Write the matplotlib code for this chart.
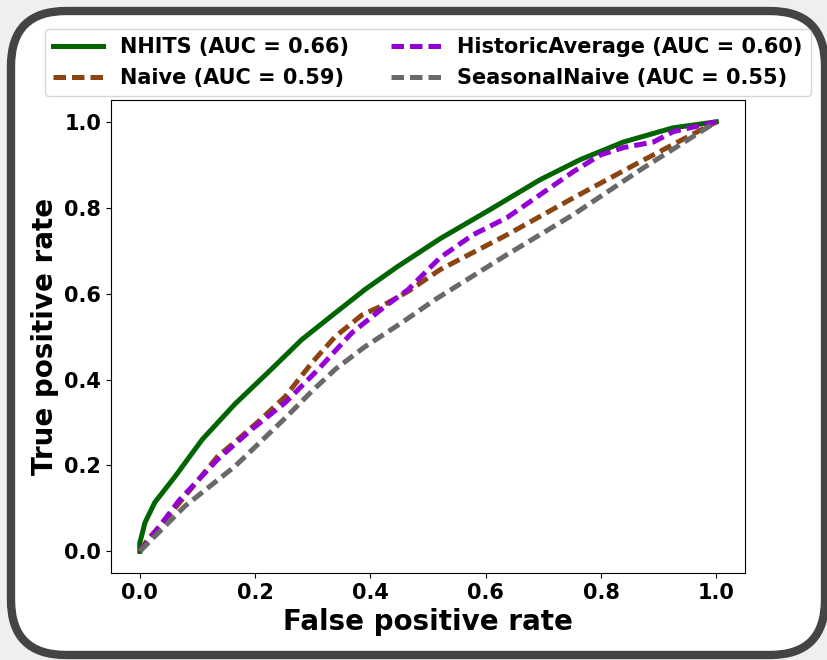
import matplotlib
matplotlib.use("Agg")
import matplotlib.pyplot as plt
from matplotlib.patches import FancyBboxPatch
from matplotlib.transforms import IdentityTransform

# ROC curves (FPR, TPR)
nhits_fpr = [0.0, 0.0, 0.004, 0.009, 0.026, 0.061, 0.108, 0.165, 0.222, 0.281,
             0.339, 0.391, 0.446, 0.521, 0.608, 0.694, 0.764, 0.839, 0.925, 1.0]
nhits_tpr = [0.0, 0.02, 0.04, 0.067, 0.114, 0.174, 0.26, 0.343, 0.416, 0.493,
             0.555, 0.610, 0.662, 0.728, 0.796, 0.865, 0.912, 0.953, 0.986, 1.0]

naive_fpr = [0.0, 0.014, 0.04, 0.078, 0.135, 0.168, 0.208, 0.252, 0.299, 0.339,
             0.385, 0.425, 0.465, 0.521, 0.637, 0.752, 0.868, 1.0]
naive_tpr = [0.0, 0.028, 0.067, 0.128, 0.221, 0.258, 0.305, 0.36, 0.44, 0.5,
             0.55, 0.575, 0.605, 0.656, 0.737, 0.823, 0.907, 1.0]

hist_fpr = [0.0, 0.021, 0.069, 0.135, 0.194, 0.252, 0.309, 0.368, 0.425, 0.465,
            0.521, 0.578, 0.637, 0.694, 0.752, 0.799, 0.839, 0.891, 0.925, 1.0]
hist_tpr = [0.0, 0.035, 0.12, 0.214, 0.284, 0.346, 0.423, 0.509, 0.570, 0.609,
            0.684, 0.737, 0.777, 0.830, 0.884, 0.923, 0.940, 0.953, 0.977, 1.0]

snaive_fpr = [0.0, 0.078, 0.165, 0.252, 0.30, 0.34, 0.39, 0.455, 0.512, 0.637,
              0.752, 0.868, 1.0]
snaive_tpr = [0.0, 0.105, 0.198, 0.31, 0.375, 0.425, 0.476, 0.533, 0.586, 0.691,
              0.784, 0.888, 1.0]

labels = ["NHITS (AUC = 0.66)", "Naive (AUC = 0.59)",
          "HistoricAverage (AUC = 0.60)", "SeasonalNaive (AUC = 0.55)"]
colors = ["darkgreen", "saddlebrown", "darkviolet", "dimgray"]

fig = plt.figure(figsize=(8.28, 6.6), dpi=100, facecolor="#efefef")

# rounded frame around the whole chart (pixel coords)
frame = FancyBboxPatch((11, 5), 814, 644,
                       boxstyle="round,pad=0,rounding_size=55",
                       transform=IdentityTransform(), facecolor="white",
                       edgecolor="#444444", linewidth=6, zorder=-10)
fig.patches.append(frame)

ax = fig.add_axes([0.134, 0.132, 0.766, 0.716])
ax.plot(nhits_fpr, nhits_tpr, color=colors[0], lw=3.6, label=labels[0])
ax.plot(naive_fpr, naive_tpr, color=colors[1], lw=3.6, ls="--",
        dashes=(2.5, 1.2), label=labels[1])
ax.plot(hist_fpr, hist_tpr, color=colors[2], lw=3.6, ls="--",
        dashes=(2.5, 1.2), label=labels[2])
ax.plot(snaive_fpr, snaive_tpr, color=colors[3], lw=3.6, ls="--",
        dashes=(2.5, 1.2), label=labels[3])

ax.set_xlabel("False positive rate", fontsize=20, fontweight="bold")
ax.set_ylabel("True positive rate", fontsize=20, fontweight="bold")
for lab in ax.get_xticklabels() + ax.get_yticklabels():
    lab.set_fontsize(15)
    lab.set_fontweight("bold")

ax.legend(loc="lower center", bbox_to_anchor=(0.5, 1.0), ncol=2,
          prop={"size": 15, "weight": "bold"}, handlelength=2.4,
          borderaxespad=0.2)

fig.savefig("out.png", dpi=100, facecolor=fig.get_facecolor())
